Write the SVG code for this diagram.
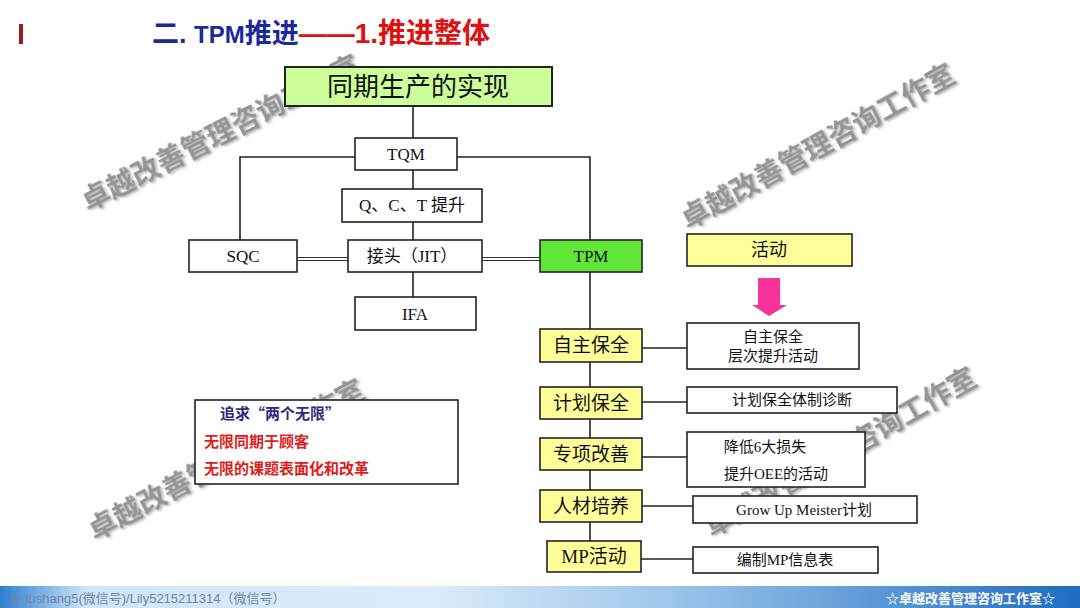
<svg xmlns="http://www.w3.org/2000/svg" width="1080" height="608" viewBox="0 0 1080 608">
<defs>
<linearGradient id="bar" x1="0" y1="0" x2="1" y2="0">
<stop offset="0" stop-color="#2f7fd0"/>
<stop offset="0.08" stop-color="#cfe5f6"/>
<stop offset="0.4" stop-color="#dcecf8"/>
<stop offset="0.62" stop-color="#9cc6ea"/>
<stop offset="1" stop-color="#1f6cc0"/>
</linearGradient>
<filter id="sh" x="-10%" y="-50%" width="120%" height="200%">
<feDropShadow dx="1.5" dy="2" stdDeviation="1" flood-color="#bbbbbb"/>
</filter>
<style>
.wm{font-family:"Noto Sans CJK SC",sans-serif;font-size:28px;font-weight:bold;fill:#949494;filter:url(#sh)}
.box{stroke:#222;stroke-width:1.6;fill:#fff}
.ln{stroke:#222;stroke-width:1.6;fill:none}
.dbl{stroke:#333;stroke-width:1;fill:none}
.t{font-family:"Liberation Serif","Noto Sans CJK SC",serif;fill:#111;text-anchor:middle}
.s17{font-size:17px}
.s19{font-size:19px}
.s15{font-size:15px}
.lt{font-family:"Noto Sans CJK SC",sans-serif;font-size:15px;font-weight:bold}
.ti{font-family:"Liberation Sans","Noto Sans CJK SC",sans-serif;font-size:27px;font-weight:bold}
</style>
</defs>
<rect width="1080" height="608" fill="#fff"/>
<g id="watermarks">
<text class="wm" transform="translate(88,212) rotate(-27)">卓越改善管理咨询工作室</text>
<text class="wm" transform="translate(688,230) rotate(-29)">卓越改善管理咨询工作室</text>
<text class="wm" transform="translate(95,541) rotate(-28)">卓越改善管理咨询工作室</text>
<text class="wm" transform="translate(712,538) rotate(-30)">卓越改善管理咨询工作室</text>
</g>
<g id="title">
<rect x="19" y="24" width="4" height="20" fill="#9b1c1c"/>
<text class="ti" x="152" y="43"><tspan fill="#1a2a9c">二. </tspan><tspan fill="#1a2a9c" font-size="24">TPM</tspan><tspan fill="#1a2a9c">推进</tspan><tspan fill="#e01010" font-size="28">——1.推进整体</tspan></text>
</g>
<g id="connectors">
<line class="ln" x1="413" y1="106" x2="413" y2="138"/>
<polyline class="ln" points="355,157 240,157 240,240"/>
<polyline class="ln" points="457,157 590,157 590,240"/>
<line class="ln" x1="413" y1="170" x2="413" y2="189"/>
<line class="ln" x1="413" y1="222" x2="413" y2="240"/>
<line class="ln" x1="413" y1="272" x2="413" y2="297"/>
<line class="dbl" x1="297" y1="257.5" x2="348" y2="257.5"/>
<line class="dbl" x1="297" y1="260.5" x2="348" y2="260.5"/>
<line class="dbl" x1="482" y1="257.5" x2="540" y2="257.5"/>
<line class="dbl" x1="482" y1="260.5" x2="540" y2="260.5"/>
<line class="ln" x1="590" y1="272" x2="590" y2="541"/>
<line class="ln" x1="642" y1="348" x2="687" y2="348"/>
<line class="ln" x1="642" y1="402" x2="687" y2="402"/>
<line class="ln" x1="642" y1="457" x2="687" y2="457"/>
<line class="ln" x1="642" y1="506" x2="693" y2="506"/>
<line class="ln" x1="641" y1="559" x2="693" y2="559"/>
<polygon points="758,278 780,278 780,305 787,305 769,316 752,305 758,305" fill="#f5339b"/>
</g>
<g id="n-top"><rect class="box" x="285" y="67" width="267" height="39" style="fill:#ccff99;stroke-width:2"/><text class="t" x="418" y="96" font-size="26">同期生产的实现</text></g>
<g id="n-tqm"><rect class="box" x="355" y="138" width="102" height="32"/><text class="t s17" x="406" y="160">TQM</text></g>
<g id="n-qct"><rect class="box" x="342" y="189" width="140" height="33"/><text class="t s17" x="412" y="211">Q、C、T 提升</text></g>
<g id="n-sqc"><rect class="box" x="189" y="240" width="108" height="32"/><text class="t s17" x="243" y="262">SQC</text></g>
<g id="n-jit"><rect class="box" x="348" y="240" width="134" height="32"/><text class="t s17" x="412" y="262">接头（JIT）</text></g>
<g id="n-ifa"><rect class="box" x="355" y="297" width="121" height="33"/><text class="t s17" x="415" y="320">IFA</text></g>
<g id="n-tpm"><rect class="box" x="540" y="240" width="102" height="32" style="fill:#63e63a"/><text class="t s17" x="591" y="262">TPM</text></g>
<g id="n-act"><rect class="box" x="687" y="234" width="165" height="32" style="fill:#ffff99"/><text class="t" x="769" y="256" font-size="18">活动</text></g>
<g id="n-jz"><rect class="box" x="540" y="329" width="102" height="33" style="fill:#ffff99"/><text class="t s19" x="591" y="352">自主保全</text></g>
<g id="n-jh"><rect class="box" x="540" y="387" width="102" height="32" style="fill:#ffff99"/><text class="t s19" x="591" y="410">计划保全</text></g>
<g id="n-zx"><rect class="box" x="540" y="438" width="102" height="32" style="fill:#ffff99"/><text class="t s19" x="591" y="461">专项改善</text></g>
<g id="n-rc"><rect class="box" x="540" y="490" width="102" height="32" style="fill:#ffff99"/><text class="t s19" x="591" y="513">人材培养</text></g>
<g id="n-mp"><rect class="box" x="547" y="541" width="94" height="31" style="fill:#ffff99"/><text class="t s19" x="594" y="563">MP活动</text></g>
<g id="r-jz"><rect class="box" x="687" y="323" width="172" height="46"/><text class="t s15" x="773" y="342">自主保全</text><text class="t s15" x="773" y="361">层次提升活动</text></g>
<g id="r-jh"><rect class="box" x="687" y="387" width="210" height="26"/><text class="t s15" x="792" y="405">计划保全体制诊断</text></g>
<g id="r-zx"><rect class="box" x="687" y="432" width="178" height="55"/><text class="t s15" x="765" y="452">降低6大损失</text><text class="t s15" x="776" y="479">提升OEE的活动</text></g>
<g id="r-rc"><rect class="box" x="693" y="496" width="224" height="27"/><text class="t s15" x="804" y="515">Grow Up Meister计划</text></g>
<g id="r-mp"><rect class="box" x="693" y="547" width="185" height="26"/><text class="t s15" x="785" y="565">编制MP信息表</text></g>
<g id="n-note"><rect class="box" x="195" y="400" width="263" height="84"/>
<text class="lt" x="220" y="419" fill="#2b2b80">追求“两个无限”</text>
<text class="lt" x="204" y="447" fill="#e01b1b">无限同期于顾客</text>
<text class="lt" x="204" y="474" fill="#e01b1b">无限的课题表面化和改革</text></g>
<g id="footer">
<rect x="0" y="586" width="1080" height="22" fill="url(#bar)"/>
<text x="9" y="603" font-family="'Liberation Sans','Noto Sans CJK SC',sans-serif" font-size="13" fill="#6f86a6">★ lushang5(微信号)/Lily5215211314（微信号）</text>
<text x="1055" y="603" text-anchor="end" font-family="'Noto Sans CJK SC',sans-serif" font-size="13" font-weight="bold" fill="#ffffff">☆卓越改善管理咨询工作室☆</text>
</g>
</svg>
